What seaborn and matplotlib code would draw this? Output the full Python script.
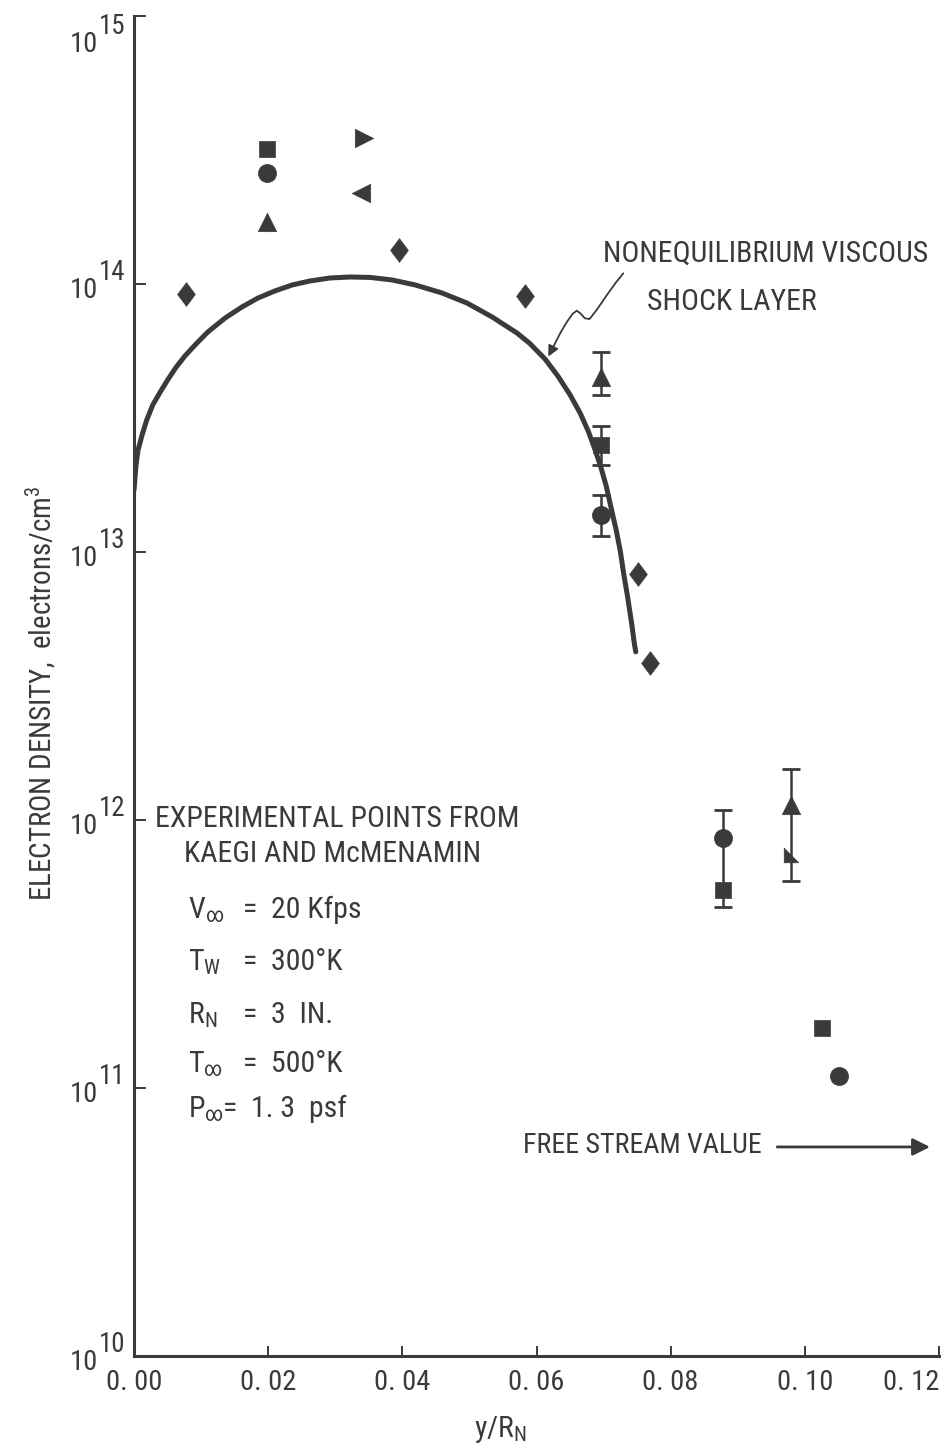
import matplotlib
matplotlib.use("Agg")
import matplotlib.pyplot as plt
from matplotlib import font_manager as fm
from matplotlib.ticker import NullLocator
import seaborn as sns

# Nonequilibrium viscous shock-layer solution
curve_x = [0.0, 0.0003, 0.0006, 0.0012, 0.0019, 0.0028, 0.0039, 0.0051, 0.0063,
           0.0076, 0.0091, 0.0110, 0.0136, 0.0161, 0.0185, 0.0210, 0.0236, 0.0262,
           0.0292, 0.0322, 0.0352, 0.0385, 0.0419, 0.0459, 0.0496, 0.0534, 0.0571,
           0.0590, 0.0613, 0.0632, 0.0650, 0.0665, 0.0677, 0.0687, 0.0696, 0.0704,
           0.0711, 0.0719, 0.0725, 0.0730, 0.0736, 0.0742, 0.0746, 0.0748]
curve_n = [1.70e13, 2.11e13, 2.40e13, 2.73e13, 3.11e13, 3.54e13, 3.95e13, 4.42e13,
           4.90e13, 5.39e13, 5.92e13, 6.62e13, 7.47e13, 8.21e13, 8.87e13, 9.42e13,
           9.92e13, 1.026e14, 1.053e14, 1.062e14, 1.058e14, 1.035e14, 9.92e13,
           9.26e13, 8.50e13, 7.53e13, 6.56e13, 6.00e13, 5.24e13, 4.53e13, 3.86e13,
           3.30e13, 2.83e13, 2.42e13, 2.07e13, 1.76e13, 1.47e13, 1.20e13, 1.005e13,
           8.29e12, 6.75e12, 5.38e12, 4.53e12, 4.24e12]

# Experimental points (Kaegi and McMenamin), one list pair per symbol
diamond_x = [0.0078, 0.0395, 0.0583, 0.0752, 0.0769]
diamond_n = [9.2e13, 1.34e14, 9.0e13, 8.3e12, 3.85e12]
square_x = [0.0199, 0.0696, 0.0878, 0.1025]
square_n = [3.2e14, 2.5e13, 5.5e11, 1.68e11]
circle_x = [0.0199, 0.0696, 0.0878, 0.1051]
circle_n = [2.6e14, 1.37e13, 8.6e11, 1.11e11]
tri_up_x = [0.0199, 0.0696, 0.0980]
tri_up_n = [1.71e14, 4.5e13, 1.14e12]
tri_right_x = [0.0343]
tri_right_n = [3.52e14]
tri_left_x = [0.0339]
tri_left_n = [2.19e14]
flag_x = [0.0980]
flag_n = [7.4e11]

# Scatter bands on the measurements
err_x = [0.0696, 0.0696, 0.0696, 0.0878, 0.0980]
err_lo = [3.86e13, 2.11e13, 1.15e13, 4.73e11, 5.94e11]
err_hi = [5.57e13, 2.94e13, 1.63e13, 1.09e12, 1.55e12]

# Axis ticks
xtick_vals = [0.0, 0.02, 0.04, 0.06, 0.08, 0.10, 0.12]
xtick_labels = ["0. 00", "0. 02", "0. 04", "0. 06", "0. 08", "0. 10", "0. 12"]
ytick_vals = [1e10, 1e11, 1e12, 1e13, 1e14, 1e15]
ytick_exps = ["10", "11", "12", "13", "14", "15"]

# Callout path for the curve label
callout_x = [0.07294, 0.07180, 0.07050, 0.06897, 0.06790, 0.06720, 0.06660,
             0.06600, 0.06540, 0.06450, 0.06360]
callout_n = [1.096e14, 1.01e14, 9.1e13, 8.0e13, 7.4e13, 7.45e13, 7.75e13,
             7.95e13, 7.75e13, 7.2e13, 6.6e13]
callout_tip = (0.06176, 5.36e13)


def pick_condensed_family():
    preferred = ["Liberation Sans Narrow", "Roboto Condensed", "Noto Sans Condensed",
                 "Open Sans Condensed", "DejaVu Sans Condensed", "Arial Narrow"]
    found = set()
    for f in fm.fontManager.ttflist:
        st = str(f.stretch).lower()
        if "condensed" in st or "narrow" in f.name.lower() or "condensed" in f.name.lower():
            if f.style == "normal":
                found.add(f.name)
    for name in preferred:
        if name in found:
            return name
    return sorted(found)[0] if found else None


sns.set_theme(style="white")
narrow = pick_condensed_family()
if narrow:
    body_font, fscale = narrow, 1.0
    plt.rcParams["font.stretch"] = "condensed"
else:
    body_font, fscale = "Liberation Sans", 0.86
plt.rcParams["font.family"] = [body_font, "DejaVu Sans"]
plt.rcParams["mathtext.fontset"] = "custom"
plt.rcParams["mathtext.rm"] = body_font
plt.rcParams["mathtext.it"] = body_font
plt.rcParams["mathtext.sf"] = body_font

ink = "#3a3a3a"
fs_text = 21.5 * fscale
fs_tick = 20.5 * fscale

fig = plt.figure(figsize=(9.51, 14.48), dpi=100)
ax = fig.add_axes([134 / 951, 92 / 1448, 805 / 951, 1340 / 1448])

sns.lineplot(x=curve_x, y=curve_n, ax=ax, color=ink, linewidth=3.6,
             sort=False, estimator=None, solid_capstyle="round",
             solid_joinstyle="round")

ax.vlines(err_x, err_lo, err_hi, color=ink, linewidth=1.8)
ax.plot(err_x, err_lo, ls="none", marker="_", ms=12.5, mew=2.0, color=ink)
ax.plot(err_x, err_hi, ls="none", marker="_", ms=12.5, mew=2.0, color=ink)

diamond_marker = [(0, 1), (0.75, 0), (0, -1), (-0.75, 0), (0, 1)]
flag_marker = [(-1, 1), (1, -1), (-1, -1), (-1, 1)]
groups = [
    (diamond_x, diamond_n, diamond_marker, 290),
    (square_x, square_n, "s", 135),
    (circle_x, circle_n, "o", 170),
    (tri_up_x, tri_up_n, "^", 175),
    (tri_right_x, tri_right_n, ">", 175),
    (tri_left_x, tri_left_n, "<", 175),
    (flag_x, flag_n, flag_marker, 110),
]
for gx, gy, mk, sz in groups:
    sns.scatterplot(x=gx, y=gy, ax=ax, marker=mk, s=sz, color=ink,
                    edgecolor=ink, linewidth=0.5, zorder=3)

ax.set_yscale("log")
ax.set_xlim(0, 0.12)
ax.set_ylim(1e10, 1e15)
ax.yaxis.set_minor_locator(NullLocator())
ax.set_yticks(ytick_vals)
ax.set_yticklabels([])
ax.set_xticks(xtick_vals)
ax.set_xticklabels(xtick_labels, fontsize=fs_tick, color=ink)
# keep the last label inside the page
ax.get_xticklabels()[-1].set_horizontalalignment("right")
ax.tick_params(axis="x", bottom=True, direction="in", length=7, width=1.4,
               color=ink, pad=9)
ax.tick_params(axis="y", left=True, direction="in", length=8.6, width=1.4,
               color=ink)
sns.despine(ax=ax)
for side in ("left", "bottom"):
    ax.spines[side].set_linewidth(2.2)
    ax.spines[side].set_color(ink)

# Power-of-ten labels; the top one sits below its tick to stay on the page
ytrans = ax.get_yaxis_transform()
for v, e in zip(ytick_vals, ytick_exps):
    drop = -22 if v == ytick_vals[-1] else 0
    ax.annotate("10", xy=(0, v), xycoords=ytrans, xytext=(-36, -7 + drop),
                textcoords="offset pixels", ha="right", va="center",
                fontsize=fs_tick, color=ink, annotation_clip=False)
    ax.annotate(e, xy=(0, v), xycoords=ytrans, xytext=(-35, 11 + drop),
                textcoords="offset pixels", ha="left", va="center",
                fontsize=fs_tick * 0.95, color=ink, annotation_clip=False)

ax.text(0.4547, -0.0604, "y/R$_{\\mathregular{N}}$", transform=ax.transAxes,
        ha="center", va="baseline", fontsize=fs_text, color=ink)
fig.text(0.043, 0.5214, "ELECTRON DENSITY,  electrons/cm$^{\\mathregular{3}}$",
         rotation=90, ha="center", va="center", fontsize=fs_text * 0.97, color=ink)

# Curve label and callout
ax.text(0.5826, 0.8164, "NONEQUILIBRIUM VISCOUS", transform=ax.transAxes,
        ha="left", va="baseline", fontsize=fs_text, color=ink, clip_on=False)
ax.text(0.7429, 0.7806, "SHOCK LAYER", transform=ax.transAxes,
        ha="center", va="baseline", fontsize=fs_text, color=ink)
ax.plot(callout_x, callout_n, color=ink, linewidth=1.3,
        solid_joinstyle="round")
ax.annotate("", xy=callout_tip, xytext=(callout_x[-1], callout_n[-1]),
            arrowprops=dict(arrowstyle="-|>", color=ink, lw=1.3,
                            mutation_scale=16, shrinkA=0, shrinkB=0))

# Experiment notes
ax.text(0.0261, 0.3948, "EXPERIMENTAL POINTS FROM", transform=ax.transAxes,
        ha="left", va="baseline", fontsize=fs_text, color=ink)
ax.text(0.2472, 0.3687, "KAEGI AND McMENAMIN", transform=ax.transAxes,
        ha="center", va="baseline", fontsize=fs_text, color=ink)
params = [
    ("V$_{\\infty}$", "=  20 Kfps", 0.3269, 0.1354),
    ("T$_{\\mathregular{W}}$", "=  300\u00b0K", 0.2881, 0.1354),
    ("R$_{\\mathregular{N}}$", "=  3  IN.", 0.2485, 0.1354),
    ("T$_{\\infty}$", "=  500\u00b0K", 0.2119, 0.1354),
    ("P$_{\\infty}$", "=  1. 3  psf", 0.1784, 0.1106),
]
for sym, val, yb, xv in params:
    ax.text(0.0671, yb, sym, transform=ax.transAxes, ha="left", va="baseline",
            fontsize=fs_text, color=ink)
    ax.text(xv, yb, val, transform=ax.transAxes, ha="left", va="baseline",
            fontsize=fs_text, color=ink)

ax.text(0.4832, 0.1515, "FREE STREAM VALUE", transform=ax.transAxes,
        ha="left", va="baseline", fontsize=fs_text * 0.94, color=ink)
ax.annotate("", xy=(0.9888, 0.156), xytext=(0.7990, 0.156),
            xycoords="axes fraction",
            arrowprops=dict(arrowstyle="-|>", color=ink, lw=2.0,
                            mutation_scale=26, shrinkA=0, shrinkB=0),
            annotation_clip=False)

fig.savefig("out.png", dpi=100)
